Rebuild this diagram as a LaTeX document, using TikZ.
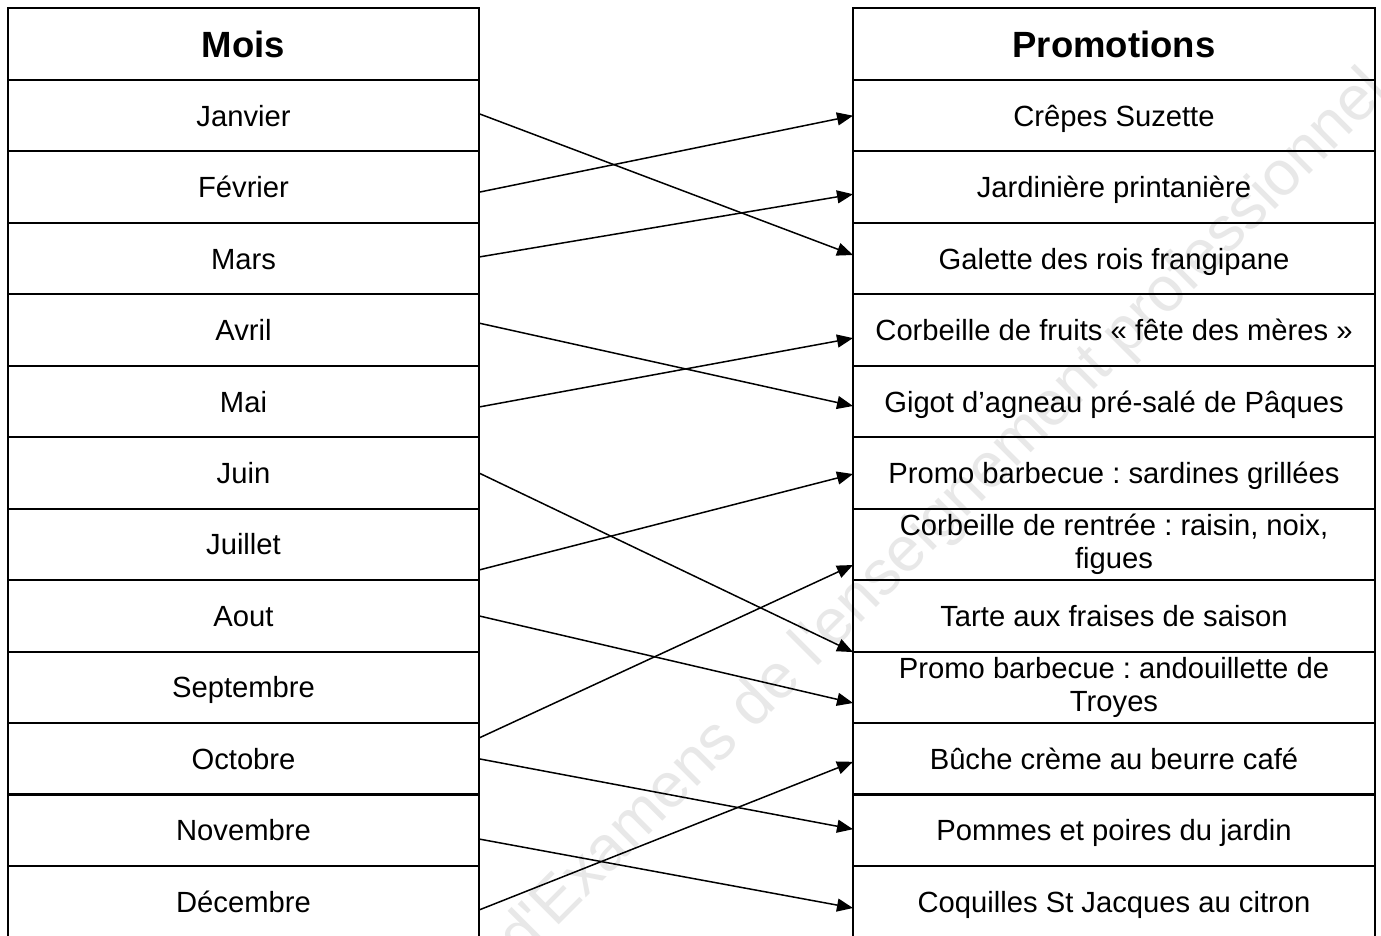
\documentclass[tikz,border=0pt]{standalone}
\usepackage{fontspec}
\setmainfont{Liberation Sans}
\usetikzlibrary{arrows.meta,calc}
\definecolor{wmgray}{RGB}{232,232,232}
\newcommand\mybodyfont{\fontsize{29.2}{33.6}\selectfont}
\newcommand\myheadfont{\fontsize{36.5}{40}\selectfont\bfseries}
\frenchspacing
\begin{document}
\begin{tikzpicture}[x=1pt,y=-1pt,
  box/.style={draw, line width=2pt, inner sep=0pt, outer sep=0pt, minimum height=71.45pt, font=\mybodyfont},
  colL/.style={box, minimum width=471pt},
  colR/.style={box, minimum width=522pt},
  one/.style={text height=21pt, text depth=0pt},
  two/.style={align=center},
  head/.style={minimum height=72pt, font=\myheadfont, text height=26pt, text depth=0pt},
  conn/.style={line width=1.5pt, -{Triangle[length=16pt,width=13pt]}},
  wmark/.style={text=wmgray, font=\fontsize{63}{63}\selectfont, inner sep=0pt}
]
\useasboundingbox (0,0) rectangle (1381,935);
\begin{scope}
\clip (0,0) rectangle (1381,935);
\fill[white] (0,0) rectangle (1381,935);
\node[wmark, rotate=45, anchor=base west] (wm) at (522,962) {d\textquotesingle Examens de l\textquotesingle enseignement professionnel};

% left column
\node[colL, head] (mh) at (243.5,44) {Mois};
\node[colL, one] (m1) at (243.5,115.7) {Janvier};
\node[colL, one] (m2) at (243.5,187.2) {Février};
\node[colL, one] (m3) at (243.5,258.6) {Mars};
\node[colL, one] (m4) at (243.5,330.1) {Avril};
\node[colL, one] (m5) at (243.5,401.5) {Mai};
\node[colL, one] (m6) at (243.5,473.0) {Juin};
\node[colL, one] (m7) at (243.5,544.4) {Juillet};
\node[colL, one] (m8) at (243.5,615.9) {Aout};
\node[colL, one] (m9) at (243.5,687.3) {Septembre};
\node[colL, one] (m10) at (243.5,758.8) {Octobre};
\node[colL, one] (m11) at (243.5,830.2) {Novembre};
\node[colL, one] (m12) at (243.5,901.7) {Décembre};

% right column
\node[colR, head] (ph) at (1114,44) {Promotions};
\node[colR, one] (p1) at (1114,115.7) {Crêpes Suzette};
\node[colR, one] (p2) at (1114,187.2) {Jardinière printanière};
\node[colR, one] (p3) at (1114,258.6) {Galette des rois frangipane};
\node[colR, one] (p4) at (1114,330.1) {Corbeille de fruits «~fête des mères~»};
\node[colR, one] (p5) at (1114,401.5) {Gigot d’agneau pré-salé de Pâques};
\node[colR, one] (p6) at (1114,473.0) {Promo barbecue : sardines grillées};
\node[colR, two] (p7) at (1114,544.4) {Corbeille de rentrée : raisin, noix,\\ figues};
\node[colR, one] (p8) at (1114,615.9) {Tarte aux fraises de saison};
\node[colR, two] (p9) at (1114,687.3) {Promo barbecue : andouillette de\\ Troyes};
\node[colR, one] (p10) at (1114,758.8) {Bûche crème au beurre café};
\node[colR, one] (p11) at (1114,830.2) {Pommes et poires du jardin};
\node[colR, one] (p12) at (1114,901.7) {Coquilles St Jacques au citron};

% connectors
\draw[conn] ($(m1.east)+(0,-2)$) -- ($(p3.west)+(0,-3.6)$);
\draw[conn] ($(m2.east)+(0,5)$) -- ($(p1.west)+(0,0)$);
\draw[conn] ($(m3.east)+(0,-1.6)$) -- ($(p2.west)+(0,7)$);
\draw[conn] ($(m4.east)+(0,-7)$) -- ($(p5.west)+(0,4.5)$);
\draw[conn] ($(m5.east)+(0,5.5)$) -- ($(p4.west)+(0,8)$);
\draw[conn] ($(m6.east)+(0,0)$) -- ($(p9.north west)+(0,0.5)$);
\draw[conn] ($(m7.east)+(0,25.6)$) -- ($(p6.west)+(0,1)$);
\draw[conn] ($(m8.east)+(0,0)$) -- ($(p9.west)+(0,15.7)$);
\draw[conn] ($(m10.east)+(0,-20.8)$) -- ($(p7.west)+(0,20.6)$);
\draw[conn] ($(m10.east)+(0,0)$) -- ($(p11.west)+(0,-1)$);
\draw[conn] ($(m11.east)+(0,8.8)$) -- ($(p12.west)+(0,6.3)$);
\draw[conn] ($(m12.east)+(0,8.3)$) -- ($(p10.west)+(0,3)$);
\end{scope}
\end{tikzpicture}
\end{document}
